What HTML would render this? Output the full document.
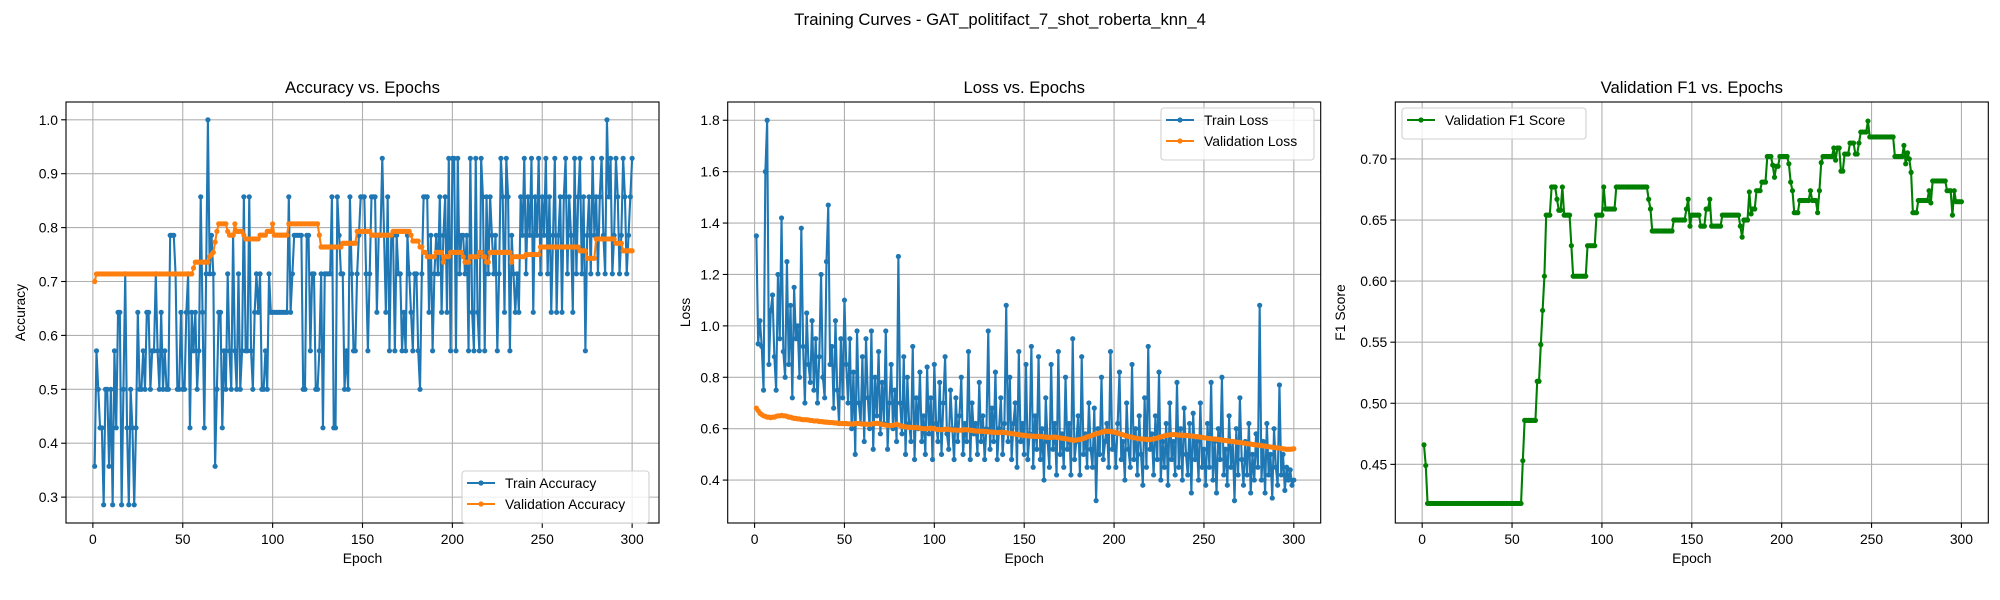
<!DOCTYPE html>
<html><head><meta charset="utf-8"><style>
html,body{margin:0;padding:0;background:#fff;}
svg{display:block;font-family:"Liberation Sans","DejaVu Sans",sans-serif;}
</style></head><body>
<svg id="chart" width="2000" height="600" viewBox="0 0 2000 600" xmlns="http://www.w3.org/2000/svg">
<rect x="0" y="0" width="2000" height="600" fill="#fff"/>
<text x="1000" y="25" text-anchor="middle" font-size="16.7" fill="#000">Training Curves - GAT_politifact_7_shot_roberta_knn_4</text>
</svg>
<script>
// Train accuracy in units of 1/14
const trainAccK = [5,8,7,6,6,4,7,7,5,7,4,8,6,9,9,4,7,10,6,4,7,6,4,6,9,7,7,8,7,9,9,7,8,8,10,8,7,9,7,8,7,7,11,11,11,10,7,7,9,7,7,9,10,6,9,8,9,7,8,12,9,6,10,14,10,11,10,5,7,9,9,6,8,7,10,8,7,11,8,7,10,7,8,12,8,8,12,8,7,9,10,9,10,7,7,8,7,10,9,9,9,9,9,9,9,9,9,9,12,9,10,11,11,11,11,11,7,7,11,11,8,10,10,7,7,8,10,6,10,10,10,10,12,6,6,12,11,10,10,7,8,7,12,10,8,8,10,11,12,12,12,10,8,10,12,12,12,9,11,11,13,11,9,12,8,11,11,8,11,10,10,8,9,8,11,10,9,8,10,10,8,7,10,12,12,12,9,11,8,10,11,10,12,9,11,12,9,13,8,13,13,8,13,10,11,11,10,11,8,13,9,8,13,9,8,13,12,8,12,10,12,11,10,11,8,10,13,12,9,13,12,8,11,10,9,10,9,12,11,13,10,12,11,13,9,12,11,13,10,12,11,13,10,12,9,11,13,9,11,12,9,12,13,10,12,11,9,13,10,12,13,10,12,8,11,12,10,13,11,12,10,12,13,11,10,14,12,13,10,11,13,12,10,11,13,12,10,11,12,13];
const valAcc = [.700,.714,.714,.714,.714,.714,.714,.714,.714,.714,.714,.714,.714,.714,.714,.714,.714,.714,.714,.714,.714,.714,.714,.714,.714,.714,.714,.714,.714,.714,.714,.714,.714,.714,.714,.714,.714,.714,.714,.714,.714,.714,.714,.714,.714,.714,.714,.714,.714,.714,.714,.714,.714,.714,.714,.725,.736,.736,.736,.736,.736,.736,.736,.736,.746,.750,.754,.773,.793,.807,.807,.807,.807,.807,.793,.786,.786,.786,.807,.793,.793,.793,.793,.786,.779,.779,.779,.779,.779,.779,.779,.779,.786,.786,.786,.786,.793,.793,.793,.807,.786,.786,.786,.786,.786,.786,.786,.786,.807,.807,.807,.807,.807,.807,.807,.807,.807,.807,.807,.807,.807,.807,.807,.807,.807,.786,.764,.764,.764,.764,.764,.764,.764,.764,.764,.764,.764,.764,.771,.771,.771,.771,.771,.771,.771,.771,.793,.793,.793,.793,.793,.793,.793,.793,.786,.786,.786,.786,.786,.786,.786,.786,.786,.786,.786,.786,.793,.793,.793,.793,.793,.793,.793,.793,.793,.793,.786,.775,.775,.775,.775,.764,.764,.754,.754,.746,.746,.746,.746,.746,.754,.754,.754,.754,.736,.746,.746,.746,.754,.754,.754,.754,.754,.754,.754,.746,.736,.736,.736,.746,.746,.746,.746,.746,.754,.754,.746,.746,.736,.736,.754,.754,.754,.754,.754,.754,.754,.754,.754,.754,.754,.754,.736,.746,.746,.746,.746,.746,.746,.746,.750,.750,.750,.750,.750,.750,.750,.750,.764,.764,.764,.764,.764,.764,.764,.764,.764,.764,.764,.764,.764,.764,.764,.764,.764,.764,.764,.764,.764,.764,.757,.757,.757,.757,.743,.743,.743,.743,.743,.779,.779,.779,.779,.779,.779,.779,.779,.779,.779,.779,.771,.771,.771,.771,.757,.757,.757,.757,.757,.757];
const trainLoss = [1.35,0.93,1.02,0.92,0.75,1.60,1.80,0.85,1.06,1.12,0.88,0.75,1.20,0.95,1.42,0.90,0.80,1.25,0.85,1.08,0.72,1.15,0.95,1.00,0.80,1.38,0.92,0.70,1.05,0.85,0.78,1.02,0.75,0.95,0.70,0.88,1.20,0.80,0.72,1.25,1.47,0.85,0.92,0.68,1.02,0.75,0.62,0.95,0.72,1.10,0.85,0.70,0.95,0.60,0.82,0.50,0.98,0.70,0.62,0.88,0.55,0.95,0.72,0.60,0.98,0.52,0.80,0.65,0.90,0.58,0.78,0.62,0.98,0.52,0.70,0.85,0.60,0.75,0.55,1.27,0.70,0.58,0.88,0.50,0.80,0.62,0.55,0.92,0.48,0.72,0.60,0.82,0.55,0.65,0.50,0.84,0.58,0.72,0.48,0.85,0.62,0.55,0.78,0.50,0.70,0.88,0.58,0.52,0.75,0.60,0.48,0.72,0.55,0.65,0.80,0.50,0.62,0.55,0.90,0.48,0.70,0.58,0.62,0.50,0.78,0.55,0.65,0.48,0.60,0.98,0.52,0.68,0.55,0.82,0.48,0.60,0.72,0.50,0.62,1.08,0.55,0.80,0.48,0.62,0.70,0.45,0.90,0.55,0.62,0.50,0.85,0.48,0.58,0.92,0.45,0.65,0.52,0.88,0.48,0.60,0.40,0.72,0.55,0.45,0.85,0.52,0.62,0.42,0.90,0.50,0.58,0.45,0.80,0.52,0.62,0.42,0.95,0.48,0.55,0.65,0.42,0.88,0.50,0.58,0.45,0.70,0.52,0.45,0.68,0.32,0.60,0.50,0.80,0.48,0.55,0.62,0.45,0.90,0.52,0.58,0.45,0.62,0.82,0.48,0.55,0.40,0.70,0.52,0.45,0.85,0.48,0.60,0.42,0.65,0.50,0.38,0.72,0.45,0.92,0.52,0.58,0.42,0.65,0.48,0.82,0.40,0.55,0.45,0.62,0.38,0.70,0.48,0.55,0.42,0.78,0.45,0.60,0.40,0.68,0.50,0.42,0.62,0.35,0.66,0.48,0.55,0.40,0.70,0.45,0.52,0.38,0.62,0.45,0.78,0.40,0.55,0.35,0.60,0.48,0.80,0.42,0.52,0.38,0.65,0.45,0.55,0.32,0.60,0.42,0.72,0.48,0.38,0.55,0.42,0.62,0.35,0.50,0.40,0.58,0.45,1.08,0.40,0.55,0.35,0.62,0.42,0.50,0.33,0.60,0.45,0.38,0.77,0.42,0.50,0.36,0.45,0.40,0.44,0.38,0.40];
const valLoss = [.68,.67,.66,.655,.65,.648,.645,.645,.643,.645,.645,.648,.65,.65,.652,.65,.65,.648,.645,.645,.642,.64,.64,.638,.638,.636,.635,.635,.635,.634,.632,.632,.63,.63,.63,.628,.628,.627,.626,.625,.625,.624,.624,.623,.622,.622,.621,.62,.62,.62,.62,.619,.619,.618,.618,.62,.62,.62,.619,.618,.618,.618,.617,.617,.618,.62,.62,.621,.62,.618,.616,.615,.614,.613,.612,.612,.613,.615,.617,.615,.612,.61,.608,.607,.606,.605,.605,.605,.604,.604,.603,.602,.601,.600,.600,.600,.601,.602,.601,.600,.598,.597,.596,.596,.597,.598,.598,.597,.596,.595,.595,.595,.594,.594,.594,.595,.596,.596,.595,.594,.593,.592,.591,.591,.59,.59,.59,.589,.589,.588,.587,.587,.586,.585,.585,.585,.586,.586,.585,.584,.583,.582,.581,.58,.579,.578,.577,.576,.575,.574,.573,.572,.572,.571,.571,.570,.570,.570,.570,.569,.568,.567,.566,.566,.566,.567,.567,.566,.565,.564,.563,.562,.561,.56,.558,.557,.556,.555,.556,.557,.558,.56,.562,.565,.568,.57,.572,.575,.578,.58,.582,.584,.586,.588,.59,.59,.59,.589,.588,.587,.585,.583,.58,.578,.576,.574,.572,.57,.568,.566,.565,.564,.562,.561,.56,.56,.559,.558,.558,.558,.559,.56,.562,.564,.566,.568,.57,.572,.574,.575,.576,.577,.577,.577,.576,.575,.575,.574,.574,.574,.573,.572,.572,.571,.570,.569,.568,.567,.566,.565,.564,.563,.562,.561,.56,.56,.559,.558,.557,.556,.555,.554,.553,.552,.551,.55,.549,.548,.547,.546,.545,.544,.543,.542,.541,.54,.539,.538,.537,.536,.535,.534,.533,.532,.531,.53,.529,.528,.527,.526,.525,.524,.523,.522,.521,.52,.52,.52,.521,.522];
const valF1 = [.466,.449,.418,.418,.418,.418,.418,.418,.418,.418,.418,.418,.418,.418,.418,.418,.418,.418,.418,.418,.418,.418,.418,.418,.418,.418,.418,.418,.418,.418,.418,.418,.418,.418,.418,.418,.418,.418,.418,.418,.418,.418,.418,.418,.418,.418,.418,.418,.418,.418,.418,.418,.418,.418,.418,.453,.486,.486,.486,.486,.486,.486,.486,.518,.518,.548,.576,.604,.654,.654,.654,.677,.677,.677,.667,.658,.658,.677,.654,.654,.654,.654,.629,.604,.604,.604,.604,.604,.604,.604,.604,.629,.629,.629,.629,.629,.654,.654,.654,.654,.677,.659,.659,.659,.659,.659,.659,.677,.677,.677,.677,.677,.677,.677,.677,.677,.677,.677,.677,.677,.677,.677,.677,.677,.677,.667,.659,.641,.641,.641,.641,.641,.641,.641,.641,.641,.641,.641,.641,.650,.650,.650,.650,.650,.650,.650,.659,.667,.645,.654,.654,.654,.654,.654,.645,.645,.645,.659,.659,.667,.645,.645,.645,.645,.645,.645,.654,.654,.654,.654,.654,.654,.654,.654,.654,.654,.645,.636,.650,.650,.650,.673,.655,.659,.659,.674,.674,.674,.681,.681,.681,.702,.702,.702,.695,.685,.694,.694,.702,.702,.702,.702,.702,.696,.681,.674,.656,.656,.656,.666,.666,.666,.666,.666,.666,.674,.666,.666,.666,.656,.674,.697,.702,.702,.702,.702,.702,.702,.709,.699,.709,.709,.690,.690,.704,.704,.704,.713,.713,.713,.704,.704,.713,.722,.722,.722,.722,.731,.718,.718,.718,.718,.718,.718,.718,.718,.718,.718,.718,.718,.718,.718,.702,.702,.702,.702,.702,.711,.696,.705,.700,.689,.656,.656,.656,.666,.666,.666,.666,.666,.666,.674,.664,.682,.682,.682,.682,.682,.682,.682,.682,.674,.674,.674,.654,.674,.665,.665,.665,.665];
const accTicks = ["0.3","0.4","0.5","0.6","0.7","0.8","0.9","1.0"];
const lossTicks = ["0.4","0.6","0.8","1.0","1.2","1.4","1.6","1.8"];
const f1Ticks = ["0.45","0.50","0.55","0.60","0.65","0.70"];
const epochTicks = ["0","50","100","150","200","250","300"];

const NS = "http://www.w3.org/2000/svg";
const svg = document.getElementById('chart');
function mk(tag, attrs, parent){ const e=document.createElementNS(NS,tag); for(const k in attrs) e.setAttribute(k,attrs[k]); (parent||svg).appendChild(e); return e; }

function panel(cfg){
  const g = mk('g',{});
  
  
  const L=cfg.left, R=cfg.left+593, T=102, B=523;
  const x = v => L + (v - (-14.95)) / (314.95 + 14.95) * (R - L);
  const y = v => B - (v - cfg.ymin) / (cfg.ymax - cfg.ymin) * (B - T);
  // grid
  epochTicks.forEach(t=>{
    const gl = mk('line',{x1:x(+t),x2:x(+t),y1:T,y2:B,stroke:'#b0b0b0','stroke-width':1.1},g);
    
    
  });
  cfg.ticks.forEach(t=>{
    const gl = mk('line',{x1:L,x2:R,y1:y(+t),y2:y(+t),stroke:'#b0b0b0','stroke-width':1.1},g);
    
    
  });
  // series
  cfg.series.forEach(s=>{
    const sg = mk('g',{},g);
    
    
    const pts = s.data.map((v,i)=>x(i+1).toFixed(2)+','+y(v).toFixed(2)).join(' ');
    const pl = mk('polyline',{points:pts,fill:'none',stroke:s.color,'stroke-width':2.1,'stroke-linejoin':'round'},sg);
    
    
    s.data.forEach((v,i)=>{
      const c = mk('circle',{cx:x(i+1).toFixed(2),cy:y(v).toFixed(2),r:2.6,fill:s.color},sg);
      
      
    });
  });
  // frame
  const fr = mk('rect',{x:L,y:T,width:R-L,height:B-T,fill:'none',stroke:'#000','stroke-width':1.1},g);
  
  
  epochTicks.forEach(t=>{
    mk('line',{x1:x(+t),x2:x(+t),y1:B,y2:B+4.9,stroke:'#000','stroke-width':1.1},g);
    const tl = mk('text',{x:x(+t),y:B+21,'text-anchor':'middle','font-size':13.9,fill:'#000'},g);
    tl.textContent = t;
    
    
  });
  cfg.ticks.forEach(t=>{
    mk('line',{x1:L-4.9,x2:L,y1:y(+t),y2:y(+t),stroke:'#000','stroke-width':1.1},g);
    const tl = mk('text',{x:L-8,y:y(+t)+5,'text-anchor':'end','font-size':13.9,fill:'#000'},g);
    tl.textContent = t;
    
    
  });
  const title = mk('text',{x:(L+R)/2,y:93,'text-anchor':'middle','font-size':16.7,fill:'#000'},g);
  title.textContent = cfg.title;
  
  
  const xl = mk('text',{x:(L+R)/2,y:563,'text-anchor':'middle','font-size':13.9,fill:'#000'},g);
  xl.textContent = 'Epoch';
  
  
  const yc=(T+B)/2;
  const yl = mk('text',{x:cfg.ylabX,y:yc,'text-anchor':'middle','font-size':13.9,fill:'#000',transform:`rotate(-90 ${cfg.ylabX} ${yc})`},g);
  yl.textContent = cfg.ylabel;
  
  
  // legend
  const lg = mk('g',{},g);
  
  
  const lw = cfg.legend.w, lh = 10 + cfg.series.length*21;
  mk('rect',{x:cfg.legend.x,y:cfg.legend.y,width:lw,height:lh,rx:3,fill:'#fff','fill-opacity':0.8,stroke:'#d0d0d0','stroke-width':1.1},lg);
  cfg.series.forEach((s,i)=>{
    const cy = cfg.legend.y + 12 + i*21;
    const e = mk('g',{},lg);
    
    
    mk('line',{x1:cfg.legend.x+5,x2:cfg.legend.x+33,y1:cy,y2:cy,stroke:s.color,'stroke-width':2.1},e);
    mk('circle',{cx:cfg.legend.x+19,cy:cy,r:2.6,fill:s.color},e);
    const t = mk('text',{x:cfg.legend.x+43,y:cy+5,'font-size':13.9,fill:'#000'},e);
    t.textContent = s.label;
  });
}

panel({name:'accuracy-panel',left:66,ymin:0.252,ymax:1.033,ticks:accTicks,title:'Accuracy vs. Epochs',ylabel:'Accuracy',ylabX:25,
  legend:{x:462,y:471,w:187},
  series:[{name:'train-accuracy',label:'Train Accuracy',color:'#1f77b4',data:trainAccK.map(k=>k/14)},
          {name:'validation-accuracy',label:'Validation Accuracy',color:'#ff7f0e',data:valAcc}]});
panel({name:'loss-panel',left:727.7,ymin:0.233,ymax:1.871,ticks:lossTicks,title:'Loss vs. Epochs',ylabel:'Loss',ylabX:690,
  legend:{x:1161,y:108,w:153},
  series:[{name:'train-loss',label:'Train Loss',color:'#1f77b4',data:trainLoss},
          {name:'validation-loss',label:'Validation Loss',color:'#ff7f0e',data:valLoss}]});
panel({name:'f1-panel',left:1395.3,ymin:0.402,ymax:0.7466,ticks:f1Ticks,title:'Validation F1 vs. Epochs',ylabel:'F1 Score',ylabX:1345,
  legend:{x:1402,y:108,w:184},
  series:[{name:'validation-f1',label:'Validation F1 Score',color:'#008000',data:valF1}]});
</script>
</body></html>
